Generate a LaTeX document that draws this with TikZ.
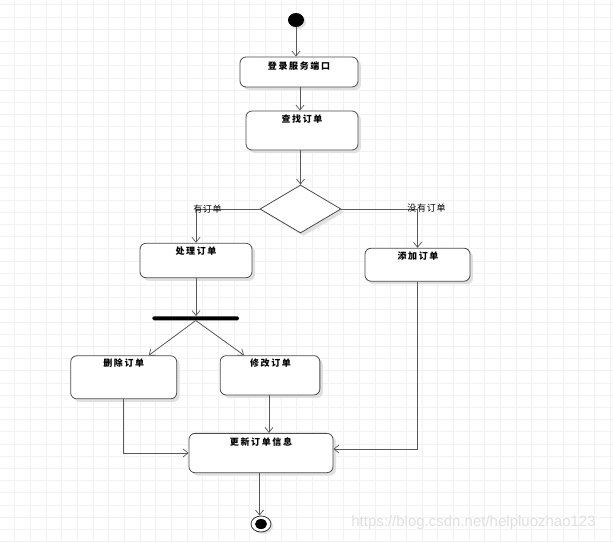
\documentclass[tikz,border=0pt]{standalone}
\usepackage{fontspec}
\setmainfont{Liberation Sans}
\newfontfamily\cjkb[LetterSpace=18]{Noto Sans CJK SC}
\newfontfamily\cjkr[LetterSpace=8]{Noto Sans CJK SC}
\usetikzlibrary{arrows.meta,shapes.geometric,shadows}
\begin{document}
\begin{tikzpicture}[x=1pt,y=-1pt,
  gridl/.style={draw=black!5, line width=0.7pt},
  conn/.style={draw=black!65, line width=0.8pt},
  arr/.style={conn, -{Straight Barb[length=5pt,width=8pt,line width=0.7pt]}},
  shad/.style={drop shadow={shadow xshift=3pt, shadow yshift=-3pt, fill=black!12, opacity=1}},
  act/.style={draw=black!70, line width=0.8pt, fill=white, rounded corners=6pt, inner sep=0pt, shad},
  atxt/.style={font=\cjkb\bfseries\fontsize{9}{11}\selectfont, inner sep=0pt, text=black},
  btxt/.style={font=\cjkr\fontsize{9}{11}\selectfont, inner sep=0pt, text=black},
  dec/.style={diamond, draw=black!70, line width=0.8pt, fill=white, inner sep=0pt, shad},
  wm/.style={font=\fontsize{15}{17}\selectfont, text=black!12, inner sep=0pt}
]
\useasboundingbox (0,0) rectangle (613,542);
\fill[white] (0,0) rectangle (613,542);
\foreach \i in {0,...,38} \draw[gridl] ({14.7+15.667*\i},0) -- ({14.7+15.667*\i},542);
\foreach \j in {0,...,44} \draw[gridl] (0,{4.7+12.2*\j}) -- (613,{4.7+12.2*\j});

% nodes
\node[ellipse, fill=black, minimum width=16pt, minimum height=14pt, inner sep=0pt,
      drop shadow={shadow xshift=2pt, shadow yshift=-2pt, fill=black!12, opacity=1}] (s) at (296,20) {};
\node[act, minimum width=118pt, minimum height=30pt] (b1) at (299,72) {};
\node[atxt] (t1) at (299,66) {登录服务端口};
\node[act, minimum width=112pt, minimum height=39pt] (b2) at (302,130.5) {};
\node[atxt] (t2) at (302,119) {查找订单};
\node[dec, minimum width=81pt, minimum height=48pt] (d) at (300.5,209) {};
\node[act, minimum width=112pt, minimum height=34.5pt] (b3) at (196,260.5) {};
\node[atxt] (t3) at (196,251) {处理订单};
\node[act, minimum width=105pt, minimum height=33pt] (b4) at (417.5,264.7) {};
\node[atxt] (t4) at (418,256) {添加订单};
\node[fill=black, rounded corners=1.5pt, minimum width=86.7pt, minimum height=4pt, inner sep=0pt] (bar) at (195.7,318.3) {};
\node[act, minimum width=106pt, minimum height=43pt] (b5) at (123.7,377.3) {};
\node[atxt] (t5) at (123.7,363.3) {删除订单};
\node[act, minimum width=99.7pt, minimum height=39.3pt] (b6) at (270,375.3) {};
\node[atxt] (t6) at (270.5,363) {修改订单};
\node[act, minimum width=144pt, minimum height=39.3pt] (b7) at (261,453) {};
\node[atxt] (t7) at (261,441.7) {更新订单信息};
\node[ellipse, draw=black!80, line width=0.8pt, fill=white, minimum width=20pt, minimum height=16pt, inner sep=0pt,
      drop shadow={shadow xshift=2pt, shadow yshift=-2pt, fill=black!12, opacity=1}] (e) at (261,524) {};
\node[ellipse, fill=black, minimum width=12pt, minimum height=10pt, inner sep=0pt] (ei) at (e.center) {};
\node[wm] (w) at (473.5,523) {https://blog.csdn.net/helpluozhao123};

% connectors
\draw[arr] (s.south) -- (s.south |- b1.north);
\draw[arr] ([xshift=1pt]b1.south) -- ([xshift=1pt]b1.south |- b2.north);
\draw[arr] (d.north |- b2.south) -- (d.north);
\draw[arr] (d.west) -| (b3.north);
\draw[arr] (d.east) -| (b4.north);
\draw[arr] (b3.south) -- (b3.south |- bar.north);
\draw[arr] (bar.south) -- ([xshift=25pt]b5.north);
\draw[arr] (bar.south) -- ([xshift=-26pt]b6.north);
\draw[arr] (b5.south) |- (b7.west);
\draw[arr] ([xshift=-1pt]b6.south) -- ([xshift=-1pt]b6.south |- b7.north);
\draw[arr] (b4.south) |- ([yshift=4pt]b7.east);
\draw[arr] ([xshift=-1.5pt]b7.south) -- ([xshift=-1.5pt]b7.south |- e.north);

% branch labels (drawn over the lines)
\node[btxt] (l1) at (207.5,209) {有订单};
\node[btxt] (l2) at (426.5,208.5) {没有订单};
\end{tikzpicture}
\end{document}
